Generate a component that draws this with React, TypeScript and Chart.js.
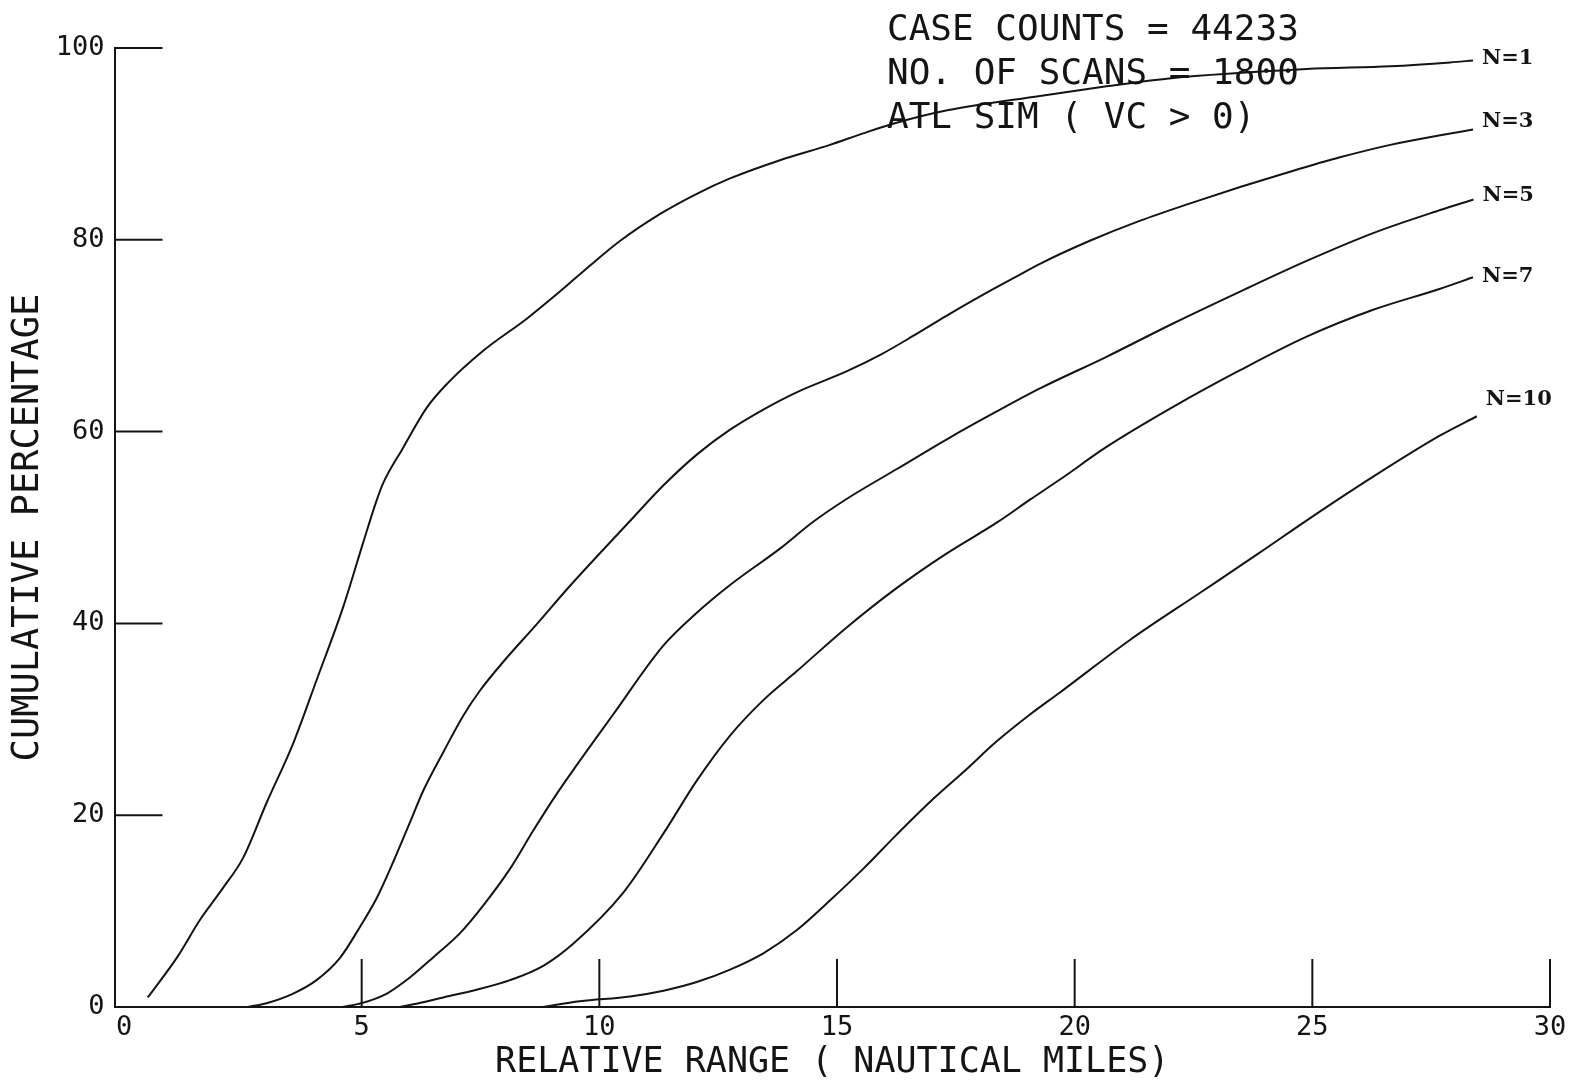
import React, { useEffect, useRef } from 'react';
import { Chart, registerables } from 'chart.js';

Chart.register(...registerables);

// ---------- data ----------
const seriesNames = ['N=1', 'N=3', 'N=5', 'N=7', 'N=10'];

const n1Points = [
  [0.5, 1.0], [1.12, 5.2], [1.6, 9.1], [2.08, 12.4], [2.5, 15.5], [3.0, 21.3], [3.56, 27.5],
  [4.06, 34.2], [4.61, 41.7], [5.03, 48.4], [5.32, 52.9], [5.45, 54.6], [5.87, 58.3],
  [6.37, 62.5], [6.8, 65.0], [7.55, 68.4], [8.48, 71.8], [9.17, 74.6], [9.8, 77.3],
  [10.44, 79.9], [11.28, 82.7], [12.05, 84.8], [12.75, 86.4], [13.8, 88.3], [14.85, 89.9],
  [15.55, 91.1], [16.18, 92.1], [17.32, 93.5], [19.27, 95.0], [20.67, 96.0], [21.94, 96.8],
  [24.88, 97.8], [26.64, 98.1], [27.9, 98.5], [28.38, 98.7],
];

const n3Points = [
  [2.6, 0.0], [3.0, 0.4], [3.56, 1.4], [4.05, 2.8], [4.54, 5.1], [4.97, 8.4], [5.32, 11.4],
  [5.67, 15.2], [6.02, 19.3], [6.3, 22.6], [6.72, 26.6], [7.14, 30.4], [7.49, 33.0],
  [7.98, 36.0], [8.68, 39.9], [9.38, 43.9], [10.65, 50.7], [11.35, 54.4],
  [12.05, 57.6], [12.75, 60.2], [13.45, 62.3], [14.15, 64.1], [15.21, 66.3], [15.91, 68.0],
  [16.61, 70.0], [17.31, 72.1], [18.01, 74.1], [18.71, 76.0], [19.27, 77.5], [20.32, 79.9],
  [21.38, 82.0], [22.43, 83.8], [23.48, 85.5], [24.53, 87.1], [25.58, 88.6], [26.64, 89.9],
  [27.69, 90.9], [28.38, 91.5],
];

const n5Points = [
  [4.6, 0.0], [5.0, 0.4], [5.53, 1.4], [6.02, 3.1], [6.51, 5.2], [7.07, 7.7], [7.56, 10.6],
  [8.12, 14.4], [8.61, 18.4], [9.1, 22.2], [9.52, 25.2], [10.29, 30.5],
  [11.35, 37.7], [12.05, 41.1], [12.75, 44.0], [13.8, 47.8], [14.5, 50.6], [15.21, 53.0],
  [16.26, 56.1], [17.31, 59.2], [18.36, 62.1], [19.27, 64.5], [20.67, 67.8], [22.08, 71.3],
  [23.48, 74.6], [24.88, 77.8], [26.28, 80.7], [27.69, 83.1], [28.39, 84.2],
];

const n7Points = [
  [5.8, 0.0], [6.2, 0.4], [6.72, 1.0], [7.42, 1.8], [8.12, 2.8], [8.82, 4.3], [9.45, 6.6],
  [10.5, 11.9], [11.35, 18.1], [12.05, 23.6], [12.75, 28.3], [13.45, 32.0],
  [14.15, 35.0], [15.21, 39.6], [16.26, 43.7], [17.31, 47.3], [18.36, 50.5], [19.06, 52.9],
  [19.69, 55.0], [20.67, 58.4], [22.08, 62.6], [23.48, 66.4], [24.88, 69.9], [26.28, 72.7],
  [27.69, 74.9], [28.38, 76.1],
];

const n10Points = [
  [8.8, 0.0], [9.59, 0.6], [10.65, 1.1], [11.35, 1.7], [12.05, 2.6], [12.75, 3.9],
  [13.45, 5.6], [14.15, 8.0], [14.85, 11.1], [15.55, 14.4], [16.26, 18.0], [16.96, 21.4],
  [17.66, 24.5], [18.36, 27.7], [19.06, 30.5], [19.69, 32.8], [21.17, 38.3], [22.64, 43.2],
  [23.9, 47.4], [24.9, 50.8], [26.28, 55.3], [27.69, 59.6], [28.46, 61.6],
];

const allSeries = [n1Points, n3Points, n5Points, n7Points, n10Points];

const xTickValues = [0, 5, 10, 15, 20, 25, 30];
const yTickValues = [0, 20, 40, 60, 80, 100];
const xTitle = 'RELATIVE RANGE ( NAUTICAL MILES)';
const yTitle = 'CUMULATIVE PERCENTAGE';
const infoLines = ['CASE COUNTS = 44233', 'NO. OF SCANS = 1800', 'ATL SIM ( VC > 0)'];

// ---------- styling ----------
const INK = '#141414';
const MONO = '"DejaVu Sans Mono", "Liberation Mono", monospace';
const labelDy = [-2, -8, -4, -1, -17];

const decorPlugin = {
  id: 'decor',
  afterDatasetsDraw(chart: any) {
    const { ctx, chartArea } = chart;
    const xs = chart.scales.x;
    const ys = chart.scales.y;
    ctx.save();
    ctx.strokeStyle = INK;
    ctx.lineWidth = 2;
    // inward tick marks
    yTickValues.forEach((v) => {
      if (v === 0) return;
      const py = ys.getPixelForValue(v);
      ctx.beginPath();
      ctx.moveTo(chartArea.left, py);
      ctx.lineTo(chartArea.left + 48, py);
      ctx.stroke();
    });
    xTickValues.forEach((v) => {
      if (v === 0) return;
      const px = xs.getPixelForValue(v);
      ctx.beginPath();
      ctx.moveTo(px, chartArea.bottom);
      ctx.lineTo(px, chartArea.bottom - 48);
      ctx.stroke();
    });
    // curve labels
    ctx.fillStyle = INK;
    ctx.font = 'bold 21px "DejaVu Serif", serif';
    ctx.textAlign = 'left';
    ctx.textBaseline = 'middle';
    chart.data.datasets.forEach((ds: any, i: number) => {
      const last = ds.data[ds.data.length - 1];
      ctx.fillText(ds.label, xs.getPixelForValue(last.x) + 9, ys.getPixelForValue(last.y) + labelDy[i]);
    });
    // info block
    ctx.font = '36px ' + MONO;
    ctx.textBaseline = 'alphabetic';
    infoLines.forEach((t, i) => {
      ctx.fillText(t, 887, 40 + 44 * i);
    });
    ctx.restore();
  },
};

export default function App() {
  const canvasRef = useRef<HTMLCanvasElement | null>(null);

  useEffect(() => {
    if (!canvasRef.current) return;
    const chart = new Chart(canvasRef.current, {
      type: 'line',
      data: {
        datasets: allSeries.map((pts, i) => ({
          label: seriesNames[i],
          data: pts.map(([x, y]) => ({ x, y })),
          borderColor: INK,
          borderWidth: 2,
          pointRadius: 0,
          fill: false,
          cubicInterpolationMode: 'monotone' as const,
        })),
      },
      options: {
        animation: false,
        responsive: false,
        maintainAspectRatio: false,
        events: [],
        layout: { padding: { left: 0, right: 24, top: 48, bottom: 0 } },
        plugins: {
          legend: { display: false },
          tooltip: { enabled: false },
          title: { display: false },
        },
        scales: {
          x: {
            type: 'linear',
            min: -0.2,
            max: 30,
            afterBuildTicks: (axis: any) => {
              axis.ticks = xTickValues.map((v) => ({ value: v }));
            },
            afterFit: (s: any) => {
              s.height = 80;
            },
            grid: { display: false, drawTicks: false },
            border: { display: true, color: INK, width: 2 },
            ticks: {
              color: INK,
              font: { family: MONO, size: 27 },
              padding: 5,
              maxRotation: 0,
              autoSkip: false,
            },
            title: {
              display: true,
              text: xTitle,
              color: INK,
              font: { family: MONO, size: 35, lineHeight: 1.2 },
              padding: { top: 0, bottom: 3 },
            },
          },
          y: {
            type: 'linear',
            min: 0,
            max: 100,
            afterBuildTicks: (axis: any) => {
              axis.ticks = yTickValues.map((v) => ({ value: v }));
            },
            afterFit: (s: any) => {
              s.width = 114.5;
            },
            grid: { display: false, drawTicks: false },
            border: { display: true, color: INK, width: 2 },
            ticks: {
              color: INK,
              font: { family: MONO, size: 27 },
              padding: 10,
              autoSkip: false,
            },
            title: {
              display: true,
              text: yTitle,
              color: INK,
              font: { family: MONO, size: 37, lineHeight: 1.2 },
              padding: { top: 6, bottom: 0 },
            },
          },
        },
      },
      plugins: [decorPlugin],
    });
    return () => chart.destroy();
  }, []);

  return (
    <div style={{ position: 'absolute', left: 0, top: 0, width: 1574, height: 1087, background: '#ffffff' }}>
      <canvas ref={canvasRef} width={1574} height={1087} style={{ display: 'block' }} />
    </div>
  );
}
